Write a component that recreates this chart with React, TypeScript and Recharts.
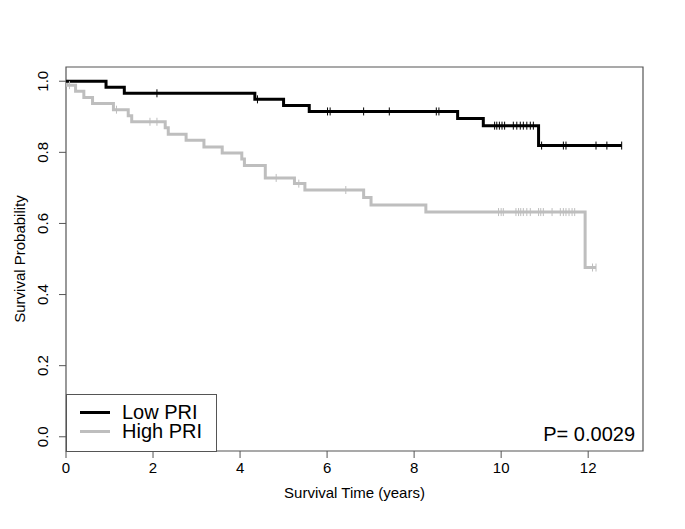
import React from 'react'
import { ComposedChart, Line, XAxis, YAxis, ReferenceArea, Legend } from 'recharts'

// axis ticks
const xTicks = [0, 2, 4, 6, 8, 10, 12]
const yTicks = [0, 0.2, 0.4, 0.6, 0.8, 1.0]

// Kaplan-Meier steps: [time (years), survival]
const lowEvents = [
  [0, 1.0], [0.92, 0.983], [1.34, 0.966], [4.34, 0.949], [5.0, 0.932],
  [5.59, 0.915], [9.0, 0.895], [9.59, 0.875], [10.86, 0.819]
]
const lowCensored = [
  2.09, 4.4, 6.01, 6.07, 6.84, 7.43, 8.51, 8.57, 9.85, 9.9, 9.96, 10.02, 10.08,
  10.28, 10.36, 10.44, 10.51, 10.59, 10.67, 10.74, 10.93, 11.43, 11.49, 12.18, 12.43, 12.77
]
const highEvents = [
  [0, 1.0], [0.02, 0.989], [0.22, 0.972], [0.41, 0.954], [0.61, 0.937], [1.09, 0.92],
  [1.43, 0.903], [1.51, 0.886], [2.28, 0.869], [2.35, 0.851], [2.76, 0.834], [3.17, 0.815],
  [3.59, 0.798], [4.04, 0.781], [4.1, 0.763], [4.58, 0.728], [5.25, 0.712], [5.49, 0.694],
  [6.84, 0.673], [7.01, 0.652], [8.27, 0.632], [11.93, 0.476]
]
const highCensored = [
  0.08, 1.16, 1.93, 2.09, 4.83, 5.35, 6.43, 9.94, 10.0, 10.05, 10.34, 10.4, 10.45, 10.51,
  10.59, 10.67, 10.86, 10.91, 10.97, 11.17, 11.36, 11.43, 11.49, 11.56, 11.63, 11.69, 12.1, 12.18
]
const pValue = 'P= 0.0029'

const FONT = '"Liberation Sans", Arial, sans-serif'
const FRAME = '#555'
const GRAY = '#bebebe'

const survivalAt = (events: number[][], t: number) => {
  let s = events[0][1]
  for (const [et, es] of events) if (et <= t) s = es
  return s
}

const buildCurve = (events: number[][], censored: number[]) =>
  [
    ...events.map(([t, s]) => ({ t, s, c: false })),
    ...censored.map((t) => ({ t, s: survivalAt(events, t), c: true }))
  ].sort((a, b) => a.t - b.t)

const lowData = buildCurve(lowEvents, lowCensored)
const highData = buildCurve(highEvents, highCensored)

const censorMark = (color: string) => (props: any) => {
  const { cx, cy, payload, index } = props
  if (!payload.c) return <g key={`n${index}`} />
  return <line key={`c${index}`} x1={cx} x2={cx} y1={cy - 4} y2={cy + 4} stroke={color} strokeWidth={1} />
}

const YTick = (props: any) => {
  const { y, payload } = props
  const x0 = 48
  return (
    <text x={x0} y={y} transform={`rotate(-90 ${x0} ${y})`} textAnchor="middle"
      fontSize={15} fontFamily={FONT} fill="#000">
      {payload.value.toFixed(1)}
    </text>
  )
}

const YTitle = (props: any) => {
  const vb = props.viewBox
  const cy = vb.y + vb.height / 2
  return (
    <text x={25} y={cy} transform={`rotate(-90 25 ${cy})`} textAnchor="middle"
      fontSize={15} fontFamily={FONT} fill="#000">
      Survival Probability
    </text>
  )
}

const LegendBox = (props: any) => {
  const items = [...(props.payload || [])].reverse()
  return (
    <div style={{
      width: 149, height: 56, border: `1px solid ${FRAME}`, background: '#fff',
      fontFamily: FONT, fontSize: 20, boxSizing: 'content-box'
    }}>
      {items.map((it: any, i: number) => (
        <div key={i} style={{ position: 'absolute', left: 14, top: 8 + i * 19, display: 'flex', alignItems: 'center', height: 20 }}>
          <div style={{ width: 30, height: 3, background: it.color }} />
          <span style={{ marginLeft: 12, lineHeight: '20px', color: '#000' }}>{it.value}</span>
        </div>
      ))}
    </div>
  )
}

export default function App() {
  return (
    <div style={{ position: 'absolute', left: 0, top: 0, width: 685, height: 529, background: '#fff' }}>
      <ComposedChart width={685} height={529} margin={{ top: 67, right: 42, bottom: 0, left: 0 }}>
        <XAxis
          dataKey="t" type="number" domain={[0, 13.26]} ticks={xTicks} allowDataOverflow
          axisLine={false} tickSize={7} tickMargin={4} height={78}
          tickLine={{ stroke: FRAME }}
          tick={{ fontSize: 15, fontFamily: FONT, fill: '#000' }}
          label={{ value: 'Survival Time (years)', position: 'insideBottom', offset: 31, fontSize: 15, fontFamily: FONT, fill: '#000' }}
        />
        <YAxis
          dataKey="s" type="number" domain={[-0.04, 1.04]} ticks={yTicks} allowDataOverflow
          axisLine={false} tickSize={7} width={66} tickLine={{ stroke: FRAME }}
          tick={<YTick />}
          label={{ content: <YTitle /> }}
        />
        <ReferenceArea x1={0} x2={13.26} y1={-0.04} y2={1.04} fill="none" stroke={FRAME} strokeWidth={1.2} ifOverflow="visible" />
        <Line data={highData} dataKey="s" name="High PRI" type="stepAfter" stroke={GRAY}
          strokeWidth={3} dot={censorMark(GRAY)} activeDot={false} isAnimationActive={false} />
        <Line data={lowData} dataKey="s" name="Low PRI" type="stepAfter" stroke="#000"
          strokeWidth={3} dot={censorMark('#000')} activeDot={false} isAnimationActive={false} />
        <Legend layout="horizontal" verticalAlign="middle" align="center" content={<LegendBox />}
          wrapperStyle={{ left: 66, top: 394, width: 150, height: 57 }} />
      </ComposedChart>
      <div style={{
        position: 'absolute', right: 50, top: 422, fontFamily: FONT, fontSize: 20,
        lineHeight: '24px', color: '#000'
      }}>
        {pValue}
      </div>
    </div>
  )
}
